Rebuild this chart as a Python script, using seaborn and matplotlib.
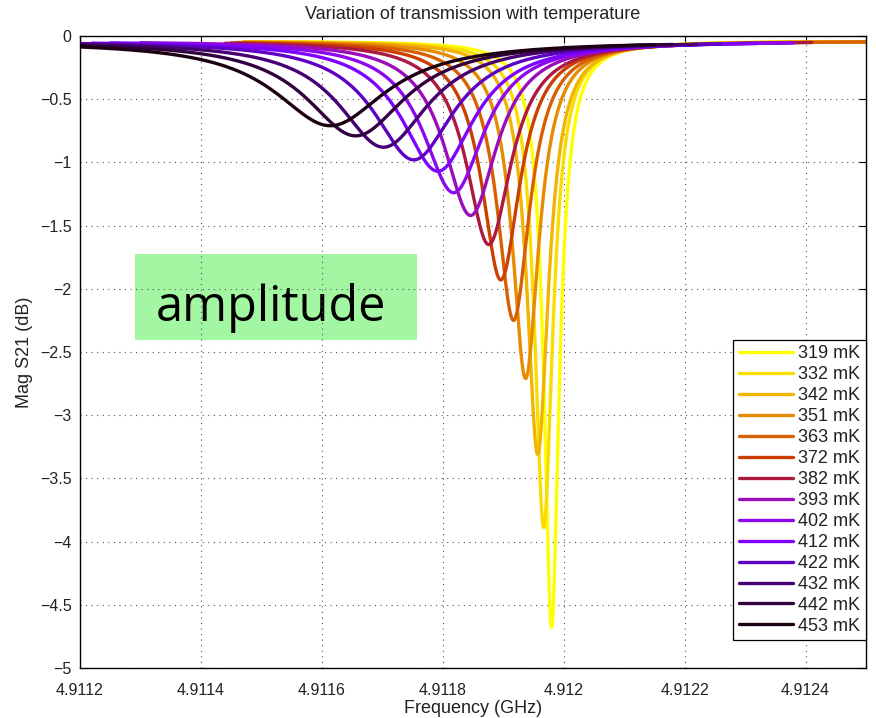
import numpy as np
import pandas as pd
import matplotlib
matplotlib.use("Agg")
import matplotlib.pyplot as plt
import seaborn as sns
from matplotlib.patches import Rectangle

# ---------------- data ----------------
temps_mK = [319, 332, 342, 351, 363, 372, 382, 393, 402, 412, 422, 432, 442, 453]
f0_GHz = [4.911980, 4.911967, 4.911957, 4.911937, 4.911917, 4.911896, 4.911876,
          4.911846, 4.911818, 4.911792, 4.911752, 4.911702, 4.911656, 4.911614]
dip_dB = [-4.68, -3.89, -3.31, -2.71, -2.25, -1.93, -1.65,
          -1.42, -1.24, -1.07, -0.98, -0.88, -0.79, -0.71]
fwhm_kHz = [40, 46, 53, 63, 75, 86, 100, 116, 133, 155, 170, 190, 210, 235]
sweep_start_GHz = [4.91149, 4.91148, 4.91147, 4.91147, 4.91146, 4.91145, 4.91144,
                   4.91130, 4.91125, 4.91122, 4.91120, 4.91120, 4.91120, 4.91120]
sweep_stop_GHz = [4.91250, 4.91250, 4.91250, 4.91250, 4.91250, 4.91238, 4.91241,
                  4.91236, 4.91238, 4.91232, 4.91226, 4.91222, 4.91218, 4.91215]
baseline_dB = -0.04

xtick_vals = [4.9112, 4.9114, 4.9116, 4.9118, 4.9120, 4.9122, 4.9124]
xtick_labels = ["4.9112", "4.9114", "4.9116", "4.9118", "4.912", "4.9122", "4.9124"]
ytick_vals = [0, -0.5, -1, -1.5, -2, -2.5, -3, -3.5, -4, -4.5, -5]
ytick_labels = ["0", "\u22120.5", "\u22121", "\u22121.5", "\u22122", "\u22122.5",
                "\u22123", "\u22123.5", "\u22124", "\u22124.5", "\u22125"]

# colour positions on the gnuplot colormap (style)
cmap_pos = [1.0, 0.95, 0.89, 0.82, 0.72, 0.63, 0.46, 0.37, 0.31, 0.24, 0.14, 0.075, 0.04, 0.012]

# ---------------- build curves (notch resonance model) ----------------
rows = []
for T, f0, d, w, fs, fe in zip(temps_mK, f0_GHz, dip_dB, fwhm_kHz,
                                sweep_start_GHz, sweep_stop_GHz):
    f = np.linspace(fs, fe, 1600)
    a = 1 - 10 ** ((d - baseline_dB) / 20.0)
    x = 2 * (f - f0) / (w * 1e-6)
    mag2 = ((1 - a) ** 2 + x ** 2) / (1 + x ** 2)
    db = baseline_dB + 10 * np.log10(mag2)
    for fi, di in zip(f, db):
        rows.append((fi, di, f"{T} mK"))
df = pd.DataFrame(rows, columns=["freq", "mag", "temp"])

labels = [f"{T} mK" for T in temps_mK]
cmap = matplotlib.colormaps["gnuplot"]
palette = {lab: cmap(p) for lab, p in zip(labels, cmap_pos)}

# ---------------- figure ----------------
sns.set_theme(style="white")
plt.rcParams["font.family"] = ["Liberation Sans", "DejaVu Sans"]

fig = plt.figure(figsize=(8.76, 7.18), dpi=100)
ax = fig.add_axes([80 / 876, 50 / 718, 786 / 876, 632 / 718])

sns.lineplot(data=df, x="freq", y="mag", hue="temp", hue_order=labels,
             palette=palette, estimator=None, sort=False, linewidth=2.4, ax=ax)

ax.set_xlim(4.9112, 4.9125)
ax.set_ylim(-5, 0)
ax.set_xticks(xtick_vals)
ax.set_xticklabels(xtick_labels, fontsize=11.5)
ax.set_yticks(ytick_vals)
ax.set_yticklabels(ytick_labels, fontsize=11.5)
ax.tick_params(direction="in", top=True, right=True, length=5, width=0.8,
               colors="black", labelcolor="#222222")
ax.tick_params(axis="x", pad=11)
ax.tick_params(axis="y", pad=6)
ax.grid(True, linestyle=(0, (1, 4)), color="#555555", linewidth=0.8)
ax.set_axisbelow("line")
for s in ax.spines.values():
    s.set_color("black")
    s.set_linewidth(1.0)

ax.set_xlabel("Frequency (GHz)", fontsize=13, color="#222222", labelpad=1)
ax.set_ylabel("Mag S21 (dB)", fontsize=13, color="#222222", labelpad=5)
ax.set_title("Variation of transmission with temperature", fontsize=13,
             color="#222222", pad=12)

handles, labs = ax.get_legend_handles_labels()
leg = ax.legend(handles, labs, loc="lower right", bbox_to_anchor=(1.0, 0.044),
                fontsize=13, frameon=True, fancybox=False, framealpha=1,
                edgecolor="black", labelspacing=0.22, handlelength=3.0,
                handletextpad=0.3, borderpad=0.3, borderaxespad=0)
leg.get_frame().set_linewidth(0.9)
for h in leg.get_lines():
    h.set_linewidth(2.4)
for t in leg.get_texts():
    t.set_color("#222222")

# green annotation box
rect = Rectangle((135 / 876, 1 - 340 / 718), (417 - 135) / 876, (340 - 254) / 718,
                 transform=fig.transFigure, facecolor="#a3f7a3", edgecolor="none",
                 zorder=1.0, clip_on=False)
ax.add_patch(rect)
ax.text(271 / 876, 1 - 321 / 718, "amplitude", transform=fig.transFigure,
        ha="center", va="baseline", fontsize=35, family="Open Sans",
        color="black", zorder=1.1)

fig.savefig("out.png", dpi=100)
